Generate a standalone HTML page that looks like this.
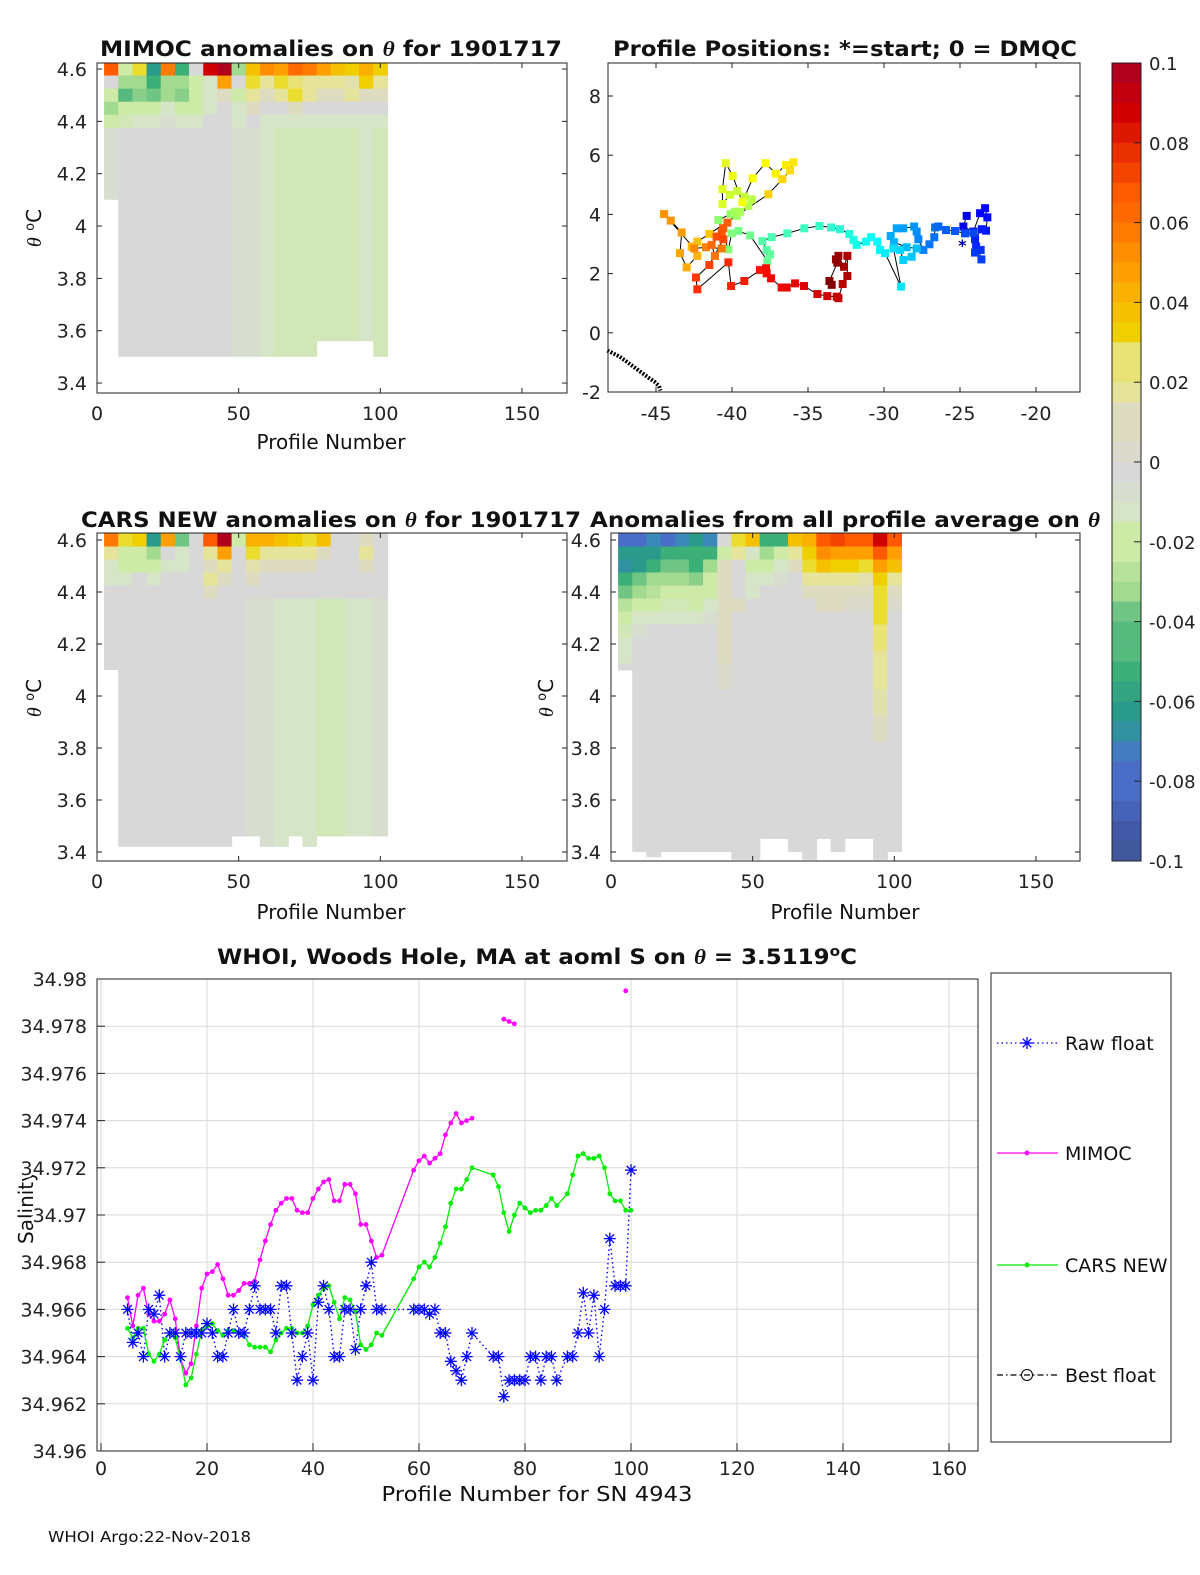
<!DOCTYPE html>
<html><head><meta charset="utf-8"><style>
html,body{margin:0;padding:0;background:#fff;}
svg{display:block;font-family:"DejaVu Sans","Liberation Sans",sans-serif;}
</style></head><body>
<svg id="fig" width="1200" height="1575" viewBox="0 0 1200 1575" xmlns="http://www.w3.org/2000/svg">
<rect x="0" y="0" width="1200" height="1575" fill="#fff"/>
<text transform="translate(33,1207) rotate(-90)" text-anchor="middle" font-size="20" fill="#111">Salinity</text>
<g id="layer"></g>
<g fill="#111">
<text x="331" y="56" text-anchor="middle" font-size="21" font-weight="bold" textLength="462" lengthAdjust="spacingAndGlyphs">MIMOC anomalies on <tspan font-style="italic" font-family="Liberation Serif, serif">θ</tspan>  for 1901717</text>
<text x="845" y="56" text-anchor="middle" font-size="21" font-weight="bold" textLength="464" lengthAdjust="spacingAndGlyphs">Profile Positions: *=start; 0 = DMQC</text>
<text x="331" y="527" text-anchor="middle" font-size="21" font-weight="bold" textLength="500" lengthAdjust="spacingAndGlyphs">CARS NEW anomalies on <tspan font-style="italic" font-family="Liberation Serif, serif">θ</tspan> for 1901717</text>
<text x="845" y="527" text-anchor="middle" font-size="21" font-weight="bold" textLength="510" lengthAdjust="spacingAndGlyphs">Anomalies from all profile average on <tspan font-style="italic" font-family="Liberation Serif, serif">θ</tspan></text>
<text x="537" y="964" text-anchor="middle" font-size="21" font-weight="bold" textLength="640" lengthAdjust="spacingAndGlyphs">WHOI, Woods Hole, MA at aoml S on <tspan font-style="italic" font-family="Liberation Serif, serif">θ</tspan> = 3.5119<tspan dy="-8" font-size="14">o</tspan><tspan dy="8">C</tspan></text>
<text x="331" y="449" text-anchor="middle" font-size="20">Profile Number</text>
<text x="331" y="919" text-anchor="middle" font-size="20">Profile Number</text>
<text x="845" y="919" text-anchor="middle" font-size="20">Profile Number</text>
<text x="537" y="1501" text-anchor="middle" font-size="20" textLength="311" lengthAdjust="spacingAndGlyphs">Profile Number for SN 4943</text>
<text transform="translate(41,228) rotate(-90)" text-anchor="middle" font-size="20"><tspan font-style="italic" font-family="Liberation Serif, serif">θ</tspan> <tspan dy="-7" font-size="13">o</tspan><tspan dy="7">C</tspan></text>
<text transform="translate(41,698) rotate(-90)" text-anchor="middle" font-size="20"><tspan font-style="italic" font-family="Liberation Serif, serif">θ</tspan> <tspan dy="-7" font-size="13">o</tspan><tspan dy="7">C</tspan></text>
<text transform="translate(553,698) rotate(-90)" text-anchor="middle" font-size="20"><tspan font-style="italic" font-family="Liberation Serif, serif">θ</tspan> <tspan dy="-7" font-size="13">o</tspan><tspan dy="7">C</tspan></text>
<text x="48" y="1542" font-size="15" textLength="203" lengthAdjust="spacingAndGlyphs">WHOI Argo:22-Nov-2018</text>
</g>
</svg>
<script>
// ---------- heatmap data (anomaly values per 5-profile group) ----------
const thetaRows = [4.6, 4.55, 4.5, 4.45, 4.4, 4.35, 4.3, 4.25, 4.2, 4.15, 4.1, 4.05, 4.0, 3.95, 3.9, 3.85, 3.8];
const mimocTop = [
 [0.07,-0.02,0.03,-0.06,0.06,-0.05,0.0,0.09,0.1,-0.03,0.04,0.055,0.05,0.065,0.06,0.05,0.04,0.035,0.045,0.035],
 [0.0,-0.03,-0.03,-0.05,-0.03,-0.03,-0.02,-0.01,0.05,0.0,0.03,0.02,0.03,0.025,0.02,0.02,0.02,0.015,0.035,0.02],
 [-0.02,-0.045,-0.035,-0.04,-0.03,-0.035,-0.02,-0.01,0.01,-0.02,0.02,0.01,0.02,0.03,0.02,0.01,0.01,0.02,0.01,0.01],
 [-0.03,-0.02,-0.02,-0.02,-0.01,-0.02,-0.02,-0.01,0.0,-0.01,0.01,0.0,0.0,0.01,0.0,0.0,0.0,0.0,0.0,0.0],
 [-0.02,-0.015,-0.01,-0.01,-0.005,-0.01,-0.01,0.0,0.0,-0.01,0.0,-0.01,-0.01,-0.01,-0.01,-0.01,-0.01,-0.01,-0.01,-0.01]
];
const mimocDeep = [-0.005,0,0,0,0,0,0,0,0,-0.005,-0.005,-0.01,-0.015,-0.015,-0.015,-0.015,-0.015,-0.015,-0.01,-0.015];
const mimocBottom = [4.1,3.5,3.5,3.5,3.5,3.5,3.5,3.5,3.5,3.5,3.5,3.5,3.5,3.5,3.5,3.56,3.56,3.56,3.56,3.5];
const carsTop = [
 [0.06,0.03,0.035,-0.06,0.05,-0.04,0.0,0.07,0.1,-0.02,0.045,0.045,0.04,0.035,0.03,0.04,0.0,0.0,0.01,0.0],
 [0.02,-0.02,-0.02,-0.03,0.0,-0.01,0.0,0.02,0.05,0.0,0.03,0.02,0.02,0.02,0.02,0.01,0.0,0.0,0.02,0.0],
 [-0.01,-0.02,-0.02,-0.02,-0.01,-0.01,0.0,0.01,0.02,0.0,0.015,0.01,0.01,0.01,0.01,0.0,0.0,0.0,0.01,0.0],
 [-0.01,-0.01,0.0,-0.01,0.0,0.0,0.0,0.02,0.01,0.0,0.01,0.0,0.0,0.0,0.0,0.0,0.0,0.0,0.0,0.0],
 [0,0,0,0,0,0,0,0.01,0,0,0,0,0,0,0,0,0,0,0,0]
];
const carsDeep = [0,0,0,0,0,0,0,0,0,0,-0.005,-0.005,-0.01,-0.01,-0.01,-0.015,-0.015,-0.01,-0.01,-0.005];
const carsBottom = [4.1,3.42,3.42,3.42,3.42,3.42,3.42,3.42,3.42,3.46,3.46,3.42,3.42,3.46,3.42,3.46,3.46,3.46,3.46,3.46];
const avgTop = [
 [-0.08,-0.08,-0.07,-0.08,-0.07,-0.06,-0.07,0.0,0.03,0.04,-0.05,-0.05,0.04,0.045,0.07,0.075,0.07,0.07,0.09,0.07],
 [-0.06,-0.06,-0.06,-0.05,-0.05,-0.05,-0.05,-0.02,0.02,-0.01,-0.03,-0.02,0.02,0.035,0.055,0.05,0.05,0.05,0.07,0.05],
 [-0.065,-0.06,-0.05,-0.04,-0.04,-0.05,-0.03,0.01,0.0,-0.02,-0.02,-0.01,0.01,0.03,0.04,0.035,0.035,0.03,0.05,0.04],
 [-0.05,-0.04,-0.03,-0.03,-0.03,-0.035,-0.02,0.01,0.0,-0.01,-0.01,-0.005,0.0,0.02,0.02,0.02,0.02,0.015,0.035,0.02],
 [-0.04,-0.03,-0.025,-0.02,-0.02,-0.02,-0.02,0.01,0.0,-0.01,0.0,0.0,0.0,0.01,0.01,0.01,0.01,0.01,0.03,0.01],
 [-0.025,-0.02,-0.02,-0.015,-0.015,-0.02,-0.01,0.01,0.01,0.0,0.0,0.0,0.0,0.0,0.01,0.01,0.005,0.005,0.03,0.005],
 [-0.02,-0.01,-0.01,-0.01,-0.01,-0.01,-0.005,0.01,0.0,0.0,0.0,0.0,0.0,0.0,0.0,0.0,0.0,0.0,0.03,0.0],
 [-0.015,-0.005,0,0,0,0,0,0.01,0,0,0,0,0,0,0,0,0,0,0.025,0],
 [-0.01,0,0,0,0,0,0,0.01,0,0,0,0,0,0,0,0,0,0,0.025,0],
 [-0.01,0,0,0,0,0,0,0.01,0,0,0,0,0,0,0,0,0,0,0.02,0],
 [0,0,0,0,0,0,0,0.005,0,0,0,0,0,0,0,0,0,0,0.02,0],
 [0,0,0,0,0,0,0,0.005,0,0,0,0,0,0,0,0,0,0,0.02,0],
 [0,0,0,0,0,0,0,0,0,0,0,0,0,0,0,0,0,0,0.015,0],
 [0,0,0,0,0,0,0,0,0,0,0,0,0,0,0,0,0,0,0.015,0],
 [0,0,0,0,0,0,0,0,0,0,0,0,0,0,0,0,0,0,0.01,0],
 [0,0,0,0,0,0,0,0,0,0,0,0,0,0,0,0,0,0,0.01,0]
];
const avgDeep = [0,0,0,0,0,0,0,0,0,0,0,0,0,0,0,0,0,0,0,0];
const avgBottom = [4.1,3.4,3.38,3.4,3.4,3.4,3.4,3.4,3.37,3.37,3.45,3.45,3.4,3.37,3.45,3.4,3.45,3.45,3.37,3.4];
const profileTicks = [0, 50, 100, 150];
const thetaTicks = [4.6, 4.4, 4.2, 4, 3.8, 3.6, 3.4];
const thetaTickLabels = ['4.6','4.4','4.2','4','3.8','3.6','3.4'];

// ---------- float track ----------
const trackLon = [-24.56,-24.78,-24.12,-23.68,-23.35,-23.20,-23.29,-23.57,-24.01,-23.94,-23.64,-24.01,-23.59,-24.12,-24.67,-25.33,-25.92,-26.42,-26.64,-26.69,-27.01,-27.41,-27.74,-27.85,-28.02,-28.73,-29.16,-29.56,-29.34,-28.51,-27.85,-28.18,-28.73,-28.94,-29.38,-28.88,-29.93,-30.26,-30.44,-30.85,-31.18,-31.80,-32.01,-32.28,-32.89,-33.48,-34.25,-35.24,-36.36,-37.39,-38.00,-37.72,-37.50,-37.67,-38.81,-39.58,-40.02,-40.24,-40.90,-40.09,-39.69,-39.80,-39.47,-38.92,-38.70,-39.19,-39.65,-40.13,-40.63,-40.63,-40.41,-39.95,-39.32,-38.64,-37.80,-37.10,-36.44,-35.96,-36.18,-36.69,-37.61,-41.49,-42.28,-42.65,-42.28,-42.98,-43.42,-43.31,-44.03,-44.47,-42.48,-41.71,-40.68,-41.12,-41.34,-40.30,-40.57,-40.68,-41.01,-40.57,-41.49,-42.37,-42.28,-40.24,-40.06,-39.19,-38.16,-37.76,-37.72,-37.43,-36.73,-36.40,-35.85,-35.26,-34.38,-33.73,-33.11,-33.00,-32.72,-32.41,-32.41,-32.63,-33.00,-33.16,-33.07,-33.59,-33.44];
const trackLat = [3.95,3.59,3.42,4.04,4.21,3.90,3.45,3.50,3.16,2.91,2.80,2.71,2.48,3.38,3.36,3.44,3.47,3.59,3.56,3.23,2.99,2.80,3.16,3.42,3.59,3.53,3.53,3.27,3.06,2.89,2.85,2.57,2.46,2.80,2.85,1.56,2.69,2.80,3.08,3.23,3.08,2.97,3.14,3.34,3.50,3.56,3.61,3.53,3.36,3.23,3.10,2.80,2.65,2.43,3.29,3.44,3.36,2.82,3.81,4.01,3.95,4.09,4.09,4.29,4.51,4.60,4.79,4.66,4.35,4.85,5.73,5.30,4.41,5.22,5.73,5.37,5.67,5.76,5.48,5.19,4.68,3.34,3.08,2.91,2.60,2.21,2.69,3.39,3.79,4.01,2.85,2.89,2.85,2.60,2.97,3.72,3.53,3.38,3.25,3.16,2.29,1.87,1.47,2.38,1.58,1.75,2.12,2.18,2.01,1.84,1.53,1.53,1.67,1.58,1.31,1.24,1.22,1.17,1.65,1.92,2.60,2.23,2.60,2.48,2.37,1.75,1.62];
const startLon = -24.85, startLat = 3.0;
const coastLon = [-48.2,-47.8,-47.4,-47.0,-46.6,-46.2,-45.8,-45.4,-45.1,-44.8,-44.7];
const coastLat = [-0.6,-0.7,-0.8,-0.95,-1.1,-1.25,-1.4,-1.55,-1.65,-1.8,-1.95];
const lonTicks = [-45,-40,-35,-30,-25,-20];
const latTicks = [8,6,4,2,0,-2];

// ---------- colorbar ----------
const cbTicks = [0.1,0.08,0.06,0.04,0.02,0,-0.02,-0.04,-0.06,-0.08,-0.1];
const cbTickLabels = ['0.1','0.08','0.06','0.04','0.02','0','-0.02','-0.04','-0.06','-0.08','-0.1'];

// ---------- salinity time series ----------
const rawX = [5,6,7,8,9,10,11,12,13,14,15,16,17,18,19,20,21,22,23,24,25,26,27,28,29,30,31,32,33,34,35,36,37,38,39,40,41,42,43,44,45,46,47,48,49,50,51,52,53,59,60,61,62,63,64,65,66,67,68,69,70,74,75,76,77,78,79,80,81,82,83,84,85,86,88,89,90,91,92,93,94,95,96,97,98,99,100];
const rawY = [34.966,34.9646,34.965,34.964,34.966,34.9658,34.9666,34.964,34.965,34.965,34.964,34.965,34.965,34.965,34.965,34.9654,34.965,34.964,34.964,34.965,34.966,34.965,34.965,34.966,34.967,34.966,34.966,34.966,34.965,34.967,34.967,34.965,34.963,34.964,34.965,34.963,34.9663,34.967,34.966,34.964,34.964,34.966,34.966,34.9643,34.966,34.967,34.968,34.966,34.966,
 34.966,34.966,34.966,34.9658,34.966,34.965,34.965,34.9638,34.9634,34.963,34.964,34.965,
 34.964,34.964,34.9623,34.963,34.963,34.963,34.963,34.964,34.964,34.963,34.964,34.964,34.963,
 34.964,34.964,34.965,34.9667,34.965,34.9666,34.964,34.966,34.969,34.967,34.967,34.967,34.9719];
const mimocX = [5,6,7,8,9,10,11,12,13,14,15,16,17,18,19,20,21,22,23,24,25,26,27,28,29,30,31,32,33,34,35,36,37,38,39,40,41,42,43,44,45,46,47,48,49,50,51,52,53,59,60,61,62,63,64,65,66,67,68,69,70,71,76,77,78,79,99];
const mimocY = [34.9665,34.9653,34.9666,34.9669,34.9658,34.9655,34.9655,34.9658,34.9664,34.9656,34.9639,34.9633,34.9637,34.9653,34.9669,34.9675,34.9676,34.9679,34.9673,34.9666,34.9666,34.9668,34.9671,34.9671,34.9672,34.9681,34.9689,34.9696,34.9702,34.9705,34.9707,34.9707,34.9702,34.9701,34.9701,34.9707,34.9711,34.9714,34.9715,34.9706,34.9706,34.9713,34.9713,34.9709,34.9696,34.9696,34.9689,34.9682,34.9683,
 34.9719,34.9723,34.9725,34.9722,34.9724,34.9726,34.9734,34.9739,34.9743,34.9739,34.9740,34.9741,null,34.9783,34.9782,34.9781,null,34.9795];
const carsX = [5,6,7,8,9,10,11,12,13,14,15,16,17,18,19,20,21,22,23,24,25,26,27,28,29,30,31,32,33,34,35,36,37,38,39,40,41,42,43,44,45,46,47,48,49,50,51,52,53,59,60,61,62,63,64,65,66,67,68,69,70,74,75,76,77,78,79,80,81,82,83,84,85,86,88,89,90,91,92,93,94,95,96,97,98,99,100];
const carsY = [34.9652,34.9648,34.9652,34.9652,34.9641,34.9638,34.9641,34.9647,34.9650,34.9648,34.9639,34.9628,34.9631,34.9641,34.9651,34.9653,34.9654,34.9651,34.9649,34.9651,34.9651,34.9650,34.9649,34.9645,34.9644,34.9644,34.9644,34.9642,34.9647,34.9650,34.9652,34.9652,34.9650,34.9650,34.9653,34.9662,34.9666,34.9669,34.9670,34.9663,34.9656,34.9665,34.9664,34.9659,34.9645,34.9643,34.9645,34.9650,34.9649,
 34.9673,34.9678,34.9680,34.9678,34.9682,34.9688,34.9695,34.9705,34.9711,34.9711,34.9715,34.9720,
 34.9717,34.9712,34.9701,34.9693,34.9700,34.9705,34.9703,34.9701,34.9702,34.9702,34.9704,34.9707,34.9704,
 34.9709,34.9717,34.9725,34.9726,34.9724,34.9724,34.9725,34.9720,34.9709,34.9706,34.9706,34.9702,34.9702];
const salXTicks = [0,20,40,60,80,100,120,140,160];
const salYTicks = [34.96,34.962,34.964,34.966,34.968,34.97,34.972,34.974,34.976,34.978,34.98];
const salYTickLabels = ['34.96','34.962','34.964','34.966','34.968','34.97','34.972','34.974','34.976','34.978','34.98'];
const legendLabels = ['Raw float','MIMOC','CARS NEW','Best float'];

// ---------- helpers ----------
const NS = 'http://www.w3.org/2000/svg';
const layer = document.getElementById('layer');
function mk(tag, attrs, parent) {
  const e = document.createElementNS(NS, tag);
  for (const k in attrs) e.setAttribute(k, attrs[k]);
  (parent || layer).appendChild(e);
  return e;
}
const cmStops = [[-0.1,'#3e5590'],[-0.09,'#4458a8'],[-0.08,'#4a6ec8'],[-0.07,'#3a88b8'],[-0.06,'#2a9a8a'],[-0.05,'#3cae78'],[-0.04,'#70c484'],[-0.03,'#a2da90'],[-0.02,'#cdeaa6'],[-0.01,'#d6e4c8'],[0,'#d8d8d8'],[0.01,'#dedcc0'],[0.02,'#e6e49a'],[0.028,'#eae060'],[0.032,'#ecd800'],[0.04,'#f5c000'],[0.05,'#ffa000'],[0.06,'#ff7a00'],[0.07,'#ff5a00'],[0.08,'#e83000'],[0.09,'#d00000'],[0.1,'#b0001e']];
function hex(c){return [parseInt(c.substr(1,2),16),parseInt(c.substr(3,2),16),parseInt(c.substr(5,2),16)];}
function cmap(v) {
  v = Math.max(-0.1, Math.min(0.1, Math.round(v / 0.005) * 0.005));
  for (let i = 0; i < cmStops.length - 1; i++) {
    const a = cmStops[i], b = cmStops[i+1];
    if (v <= b[0] + 1e-9) {
      const t = (v - a[0]) / (b[0] - a[0]);
      const ca = hex(a[1]), cb = hex(b[1]);
      return 'rgb(' + ca.map((x,j)=>Math.round(x+(cb[j]-x)*t)).join(',') + ')';
    }
  }
  return cmStops[cmStops.length-1][1];
}
function jet(t) {
  const r = Math.max(0, Math.min(1, 1.5 - Math.abs(4*t - 3)));
  const g = Math.max(0, Math.min(1, 1.5 - Math.abs(4*t - 2)));
  const b = Math.max(0, Math.min(1, 1.5 - Math.abs(4*t - 1)));
  return 'rgb(' + Math.round(r*255) + ',' + Math.round(g*255) + ',' + Math.round(b*255) + ')';
}
function axesBox(name, box) {
  const r = mk('rect', {x: box.L, y: box.T, width: box.R - box.L, height: box.B - box.T, fill: 'none', stroke: '#222', 'stroke-width': 1});
  
  
}

// ---------- heatmap panels ----------
function heatPanel(name, box, top, deep, bottom) {
  const xs = p => box.x0 + p * box.xk;
  const ys = t => box.y46 + (4.6 - t) * box.yk;
  const g = mk('g', {});
  
  
  for (let c = 0; c < deep.length; c++) {
    const p0 = 5*c + 2.5, p1 = 5*c + 7.5;
    const x0 = xs(p0), w = xs(p1) - x0 + 0.6;
    let lastEdge = 4.625;
    for (let r = 0; r < top.length; r++) {
      const tTop = (r === 0 ? 4.625 : thetaRows[r] + 0.025);
      const tBot = Math.max(thetaRows[r] - 0.025, bottom[c]);
      if (tTop <= bottom[c]) break;
      const cell = mk('rect', {x: x0, y: ys(tTop), width: w, height: ys(tBot) - ys(tTop) + 0.6, fill: cmap(top[r][c])}, g);
      
      
      lastEdge = tBot;
    }
    if (lastEdge > bottom[c]) {
      const cell = mk('rect', {x: x0, y: ys(lastEdge), width: w, height: ys(bottom[c]) - ys(lastEdge), fill: cmap(deep[c])}, g);
      
      
    }
  }
  axesBox(name, box);
  for (let i = 0; i < profileTicks.length; i++) {
    const x = xs(profileTicks[i]);
    mk('line', {x1: x, x2: x, y1: box.B, y2: box.B - 5, stroke: '#222'});
    mk('line', {x1: x, x2: x, y1: box.T, y2: box.T + 5, stroke: '#222'});
    const t = mk('text', {x: x, y: box.B + 27, 'text-anchor': 'middle', 'font-size': 19, fill: '#222'});
    t.textContent = String(profileTicks[i]);
    
    
  }
  for (let i = 0; i < thetaTicks.length; i++) {
    const y = ys(thetaTicks[i]);
    mk('line', {x1: box.L, x2: box.L + 5, y1: y, y2: y, stroke: '#222'});
    mk('line', {x1: box.R, x2: box.R - 5, y1: y, y2: y, stroke: '#222'});
    const t = mk('text', {x: box.L - 10, y: y + 7, 'text-anchor': 'end', 'font-size': 19, fill: '#222'});
    t.textContent = thetaTickLabels[i];
    
    
  }
}
heatPanel('mimoc', {L:97,R:567,T:63,B:393,x0:97,xk:2.833,y46:69,yk:261.7}, mimocTop, mimocDeep, mimocBottom);
heatPanel('cars', {L:97,R:567,T:533,B:861,x0:97,xk:2.833,y46:540,yk:260}, carsTop, carsDeep, carsBottom);
heatPanel('average', {L:611,R:1080,T:533,B:861,x0:611,xk:2.833,y46:540,yk:260}, avgTop, avgDeep, avgBottom);

// ---------- positions map ----------
(function(){
  const box = {L:608,R:1080,T:63,B:392};
  const xs = lon => 656 + (lon + 45) * 15.2;
  const ys = lat => 96 + (8 - lat) * 29.6;
  const g = mk('g', {});
  
  
  const coast = mk('polyline', {points: coastLon.map((v,i)=>xs(v)+','+ys(coastLat[i])).join(' '), fill: 'none', stroke: '#000', 'stroke-width': 4, 'stroke-dasharray': '2 1.5'}, g);
  
  
  const path = mk('polyline', {points: trackLon.map((v,i)=>xs(v)+','+ys(trackLat[i])).join(' '), fill: 'none', stroke: '#000', 'stroke-width': 1}, g);
  
  
  const n = trackLon.length;
  for (let i = 0; i < n; i++) {
    const s = mk('rect', {x: xs(trackLon[i]) - 4, y: ys(trackLat[i]) - 4, width: 8, height: 8, fill: jet(0.1 + 0.9 * i / (n - 1))}, g);
    
    
  }
  const st = mk('text', {x: xs(startLon), y: ys(startLat) + 7, 'text-anchor': 'middle', 'font-size': 16, fill: '#0000a0', 'font-weight': 'bold'}, g);
  st.textContent = '*';
  
  
  axesBox('positions', box);
  for (let i = 0; i < lonTicks.length; i++) {
    const x = xs(lonTicks[i]);
    mk('line', {x1: x, x2: x, y1: box.B, y2: box.B - 5, stroke: '#222'});
    mk('line', {x1: x, x2: x, y1: box.T, y2: box.T + 5, stroke: '#222'});
    const t = mk('text', {x: x, y: box.B + 28, 'text-anchor': 'middle', 'font-size': 19, fill: '#222'});
    t.textContent = String(lonTicks[i]);
    
    
  }
  for (let i = 0; i < latTicks.length; i++) {
    const y = ys(latTicks[i]);
    mk('line', {x1: box.L, x2: box.L + 5, y1: y, y2: y, stroke: '#222'});
    mk('line', {x1: box.R, x2: box.R - 5, y1: y, y2: y, stroke: '#222'});
    const t = mk('text', {x: box.L - 7, y: y + 7, 'text-anchor': 'end', 'font-size': 19, fill: '#222'});
    t.textContent = String(latTicks[i]);
    
    
  }
})();

// ---------- colorbar ----------
(function(){
  const L = 1112, R = 1141, T = 63, B = 861;
  const ys = v => T + (0.1 - v) / 0.2 * (B - T);
  const g = mk('g', {});
  
  
  for (let k = 0; k < 40; k++) {
    const v0 = 0.1 - k * 0.005, v1 = v0 - 0.005;
    const band = mk('rect', {x: L, y: ys(v0), width: R - L, height: ys(v1) - ys(v0) + 0.5, fill: cmap((v0 + v1) / 2)}, g);
    
    
  }
  const r = mk('rect', {x: L, y: T, width: R - L, height: B - T, fill: 'none', stroke: '#222'}, g);
  
  
  for (let i = 0; i < cbTicks.length; i++) {
    const y = ys(cbTicks[i]);
    if (i > 0 && i < cbTicks.length - 1) mk('line', {x1: R - 7, x2: R, y1: y, y2: y, stroke: '#222'}, g);
    const t = mk('text', {x: 1149, y: y + 7, 'font-size': 18, fill: '#222'}, g);
    t.textContent = cbTickLabels[i];
    
    
  }
})();

// ---------- salinity chart ----------
(function(){
  const box = {L:97,R:978,T:979,B:1451};
  const xs = p => 101 + p * 5.3;
  const ys = s => 1451 - (s - 34.96) / 0.02 * 472;
  const g = mk('g', {});
  
  
  for (let i = 0; i < salXTicks.length; i++) {
    const x = xs(salXTicks[i]);
    mk('line', {x1: x, x2: x, y1: box.T, y2: box.B, stroke: '#dadada'}, g);
  }
  for (let i = 0; i < salYTicks.length; i++) {
    const y = ys(salYTicks[i]);
    mk('line', {x1: box.L, x2: box.R, y1: y, y2: y, stroke: '#dadada'}, g);
  }
  function pts(X, Y) {
    const segs = []; let cur = [];
    for (let i = 0; i < X.length; i++) {
      if (Y[i] === null) { if (cur.length) segs.push(cur); cur = []; }
      else cur.push(xs(X[i]) + ',' + ys(Y[i]));
    }
    if (cur.length) segs.push(cur);
    return segs;
  }
  pts(rawX, rawY).forEach(s => {
    const l = mk('polyline', {points: s.join(' '), fill: 'none', stroke: '#0000ff', 'stroke-width': 1.4, 'stroke-dasharray': '1.5 3'}, g);
    
    
  });
  function star(x, y, parent) {
    const sg = mk('g', {stroke: '#0000ff', 'stroke-width': 1.3}, parent);
    mk('line', {x1: x-6, x2: x+6, y1: y, y2: y}, sg);
    mk('line', {x1: x, x2: x, y1: y-6, y2: y+6}, sg);
    mk('line', {x1: x-4.3, x2: x+4.3, y1: y-4.3, y2: y+4.3}, sg);
    mk('line', {x1: x-4.3, x2: x+4.3, y1: y+4.3, y2: y-4.3}, sg);
    return sg;
  }
  pts(mimocX, mimocY).forEach(s => {
    const l = mk('polyline', {points: s.join(' '), fill: 'none', stroke: '#ff00ff', 'stroke-width': 1.3}, g);
    
    
  });
  for (let i = 0; i < mimocX.length; i++) {
    if (mimocY[i] === null) continue;
    const c = mk('circle', {cx: xs(mimocX[i]), cy: ys(mimocY[i]), r: 2.4, fill: '#ff00ff'}, g);
    
    
  }
  pts(carsX, carsY).forEach(s => {
    const l = mk('polyline', {points: s.join(' '), fill: 'none', stroke: '#00ee00', 'stroke-width': 1.3}, g);
    
    
  });
  for (let i = 0; i < carsX.length; i++) {
    const c = mk('circle', {cx: xs(carsX[i]), cy: ys(carsY[i]), r: 2.4, fill: '#00ee00'}, g);
    
    
  }
  for (let i = 0; i < rawX.length; i++) {
    const s = star(xs(rawX[i]), ys(rawY[i]), g);
    
    
  }
  axesBox('salinity', box);
  for (let i = 0; i < salXTicks.length; i++) {
    const x = xs(salXTicks[i]);
    mk('line', {x1: x, x2: x, y1: box.B, y2: box.B - 8, stroke: '#222'});
    const t = mk('text', {x: x, y: box.B + 24, 'text-anchor': 'middle', 'font-size': 19, fill: '#222'});
    t.textContent = String(salXTicks[i]);
    
    
  }
  for (let i = 0; i < salYTicks.length; i++) {
    const y = ys(salYTicks[i]);
    mk('line', {x1: box.L, x2: box.L + 8, y1: y, y2: y, stroke: '#222'});
    const t = mk('text', {x: 87, y: y + 7, 'text-anchor': 'end', 'font-size': 19, fill: '#222', stroke: '#fff', 'stroke-width': 5, 'paint-order': 'stroke'});
    t.textContent = salYTickLabels[i];
    
    
  }
  const lg = mk('g', {});
  
  
  const lr = mk('rect', {x: 991, y: 973, width: 180, height: 469, fill: '#fff', stroke: '#222'}, lg);
  
  
  const ly = [1043, 1153, 1265, 1375];
  mk('line', {x1: 997, x2: 1058, y1: ly[0], y2: ly[0], stroke: '#0000ff', 'stroke-width': 1.3, 'stroke-dasharray': '1.5 3'}, lg);
  star(1027, ly[0], lg);
  mk('line', {x1: 997, x2: 1058, y1: ly[1], y2: ly[1], stroke: '#ff00ff', 'stroke-width': 1.3}, lg);
  mk('circle', {cx: 1027, cy: ly[1], r: 2.4, fill: '#ff00ff'}, lg);
  mk('line', {x1: 997, x2: 1058, y1: ly[2], y2: ly[2], stroke: '#00ee00', 'stroke-width': 1.3}, lg);
  mk('circle', {cx: 1027, cy: ly[2], r: 2.4, fill: '#00ee00'}, lg);
  mk('line', {x1: 997, x2: 1058, y1: ly[3], y2: ly[3], stroke: '#000', 'stroke-width': 1.2, 'stroke-dasharray': '6 3 1.5 3'}, lg);
  mk('circle', {cx: 1027, cy: ly[3], r: 5.5, fill: 'none', stroke: '#000'}, lg);
  for (let i = 0; i < legendLabels.length; i++) {
    const t = mk('text', {x: 1065, y: ly[i] + 7, 'font-size': 19, fill: '#111'}, lg);
    t.textContent = legendLabels[i];
    
    
  }
})();
</script>
</body></html>
